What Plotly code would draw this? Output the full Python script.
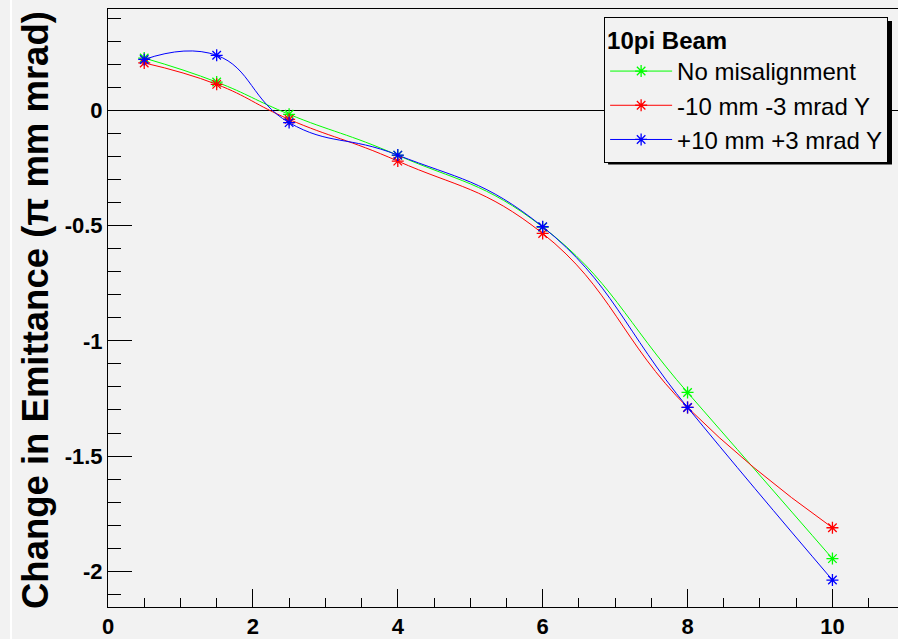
import plotly.graph_objects as go

# ---- data ----
x_vals = [0.5, 1.5, 2.5, 4, 6, 8, 10]
no_misalignment = [0.227, 0.123, -0.017, -0.195, -0.506, -1.224, -1.945]
minus_10mm = [0.206, 0.113, -0.039, -0.220, -0.534, -1.289, -1.811]
plus_10mm = [0.221, 0.239, -0.053, -0.194, -0.505, -1.289, -2.038]
series_names = ["No misalignment", "-10 mm -3 mrad Y", "+10 mm +3 mrad Y"]
series_colors = ["#00ff00", "#ff0000", "#0000ff"]

y_tickvals = [0, -0.5, -1, -1.5, -2]
y_ticktext = ["0", "-0.5", "-1", "-1.5", "-2"]
x_tickvals = [0, 2, 4, 6, 8, 10]
x_ticktext = ["0", "2", "4", "6", "8", "10"]

BG = "#f2f2f2"
FONT = "Liberation Sans"

fig = go.Figure()
for name, ys, col in zip(series_names, [no_misalignment, minus_10mm, plus_10mm], series_colors):
    fig.add_trace(go.Scatter(
        x=x_vals, y=ys, name=name, mode="lines+markers",
        line=dict(color=col, width=1, shape="spline", smoothing=1.3),
        marker=dict(symbol="asterisk-open", size=10, color=col, line=dict(color=col, width=1.3)),
        legendgroup=name,
    ))

fig.update_layout(
    width=898, height=639,
    paper_bgcolor=BG, plot_bgcolor=BG,
    margin=dict(l=108, r=0, t=9, b=30),
    showlegend=True,
    legend=dict(
        x=0.628, y=0.987, xanchor="left", yanchor="top",
        bgcolor=BG, bordercolor="black", borderwidth=1,
        font=dict(family=FONT, size=24, color="black"),
        title=dict(text="<b>10pi Beam</b>", font=dict(family=FONT, size=24, color="black")),
        tracegroupgap=0, itemwidth=62,
    ),
    xaxis=dict(
        range=[0, 10.905], showgrid=False, zeroline=False,
        showline=True, linecolor="black", linewidth=1, mirror=True,
        ticks="inside", ticklen=18, tickcolor="black", tickwidth=1,
        tickvals=x_tickvals, ticktext=x_ticktext,
        tickfont=dict(family=FONT, size=22, color="black", weight="bold"),
        minor=dict(dtick=0.5, tick0=0, ticks="inside", ticklen=9, tickcolor="black", tickwidth=1, showgrid=False),
    ),
    yaxis=dict(
        range=[-2.155, 0.440], showgrid=False,
        zeroline=True, zerolinecolor="black", zerolinewidth=1,
        showline=True, linecolor="black", linewidth=1, mirror=False,
        ticks="inside", ticklen=24, tickcolor="black", tickwidth=1,
        tickvals=y_tickvals, ticktext=y_ticktext,
        tickfont=dict(family=FONT, size=22, color="black", weight="bold"),
        minor=dict(dtick=0.1, tick0=0, ticks="inside", ticklen=13, tickcolor="black", tickwidth=1, showgrid=False),
    ),
    annotations=[dict(
        text="<b>Change in Emittance (\u03c0 mm mrad)</b>",
        xref="paper", yref="paper", x=-0.0911, y=0.4967,
        xanchor="center", yanchor="middle", textangle=-90, showarrow=False,
        font=dict(family=FONT, size=36.5, color="black"),
    )],
    shapes=[
        dict(type="rect", xref="paper", yref="paper", x0=0.633, x1=0.9924, y0=0.74, y1=0.98,
             fillcolor="black", line=dict(width=0), layer="above"),
        dict(type="line", xref="paper", yref="paper", x0=-0.1228, x1=-0.1228, y0=-0.06, y1=1.02,
             line=dict(color="white", width=2)),
    ],
)

fig.write_html(
    "out.html",
    config={"displayModeBar": False},
    post_script="document.body.style.margin='0';document.body.style.overflow='hidden';",
)
